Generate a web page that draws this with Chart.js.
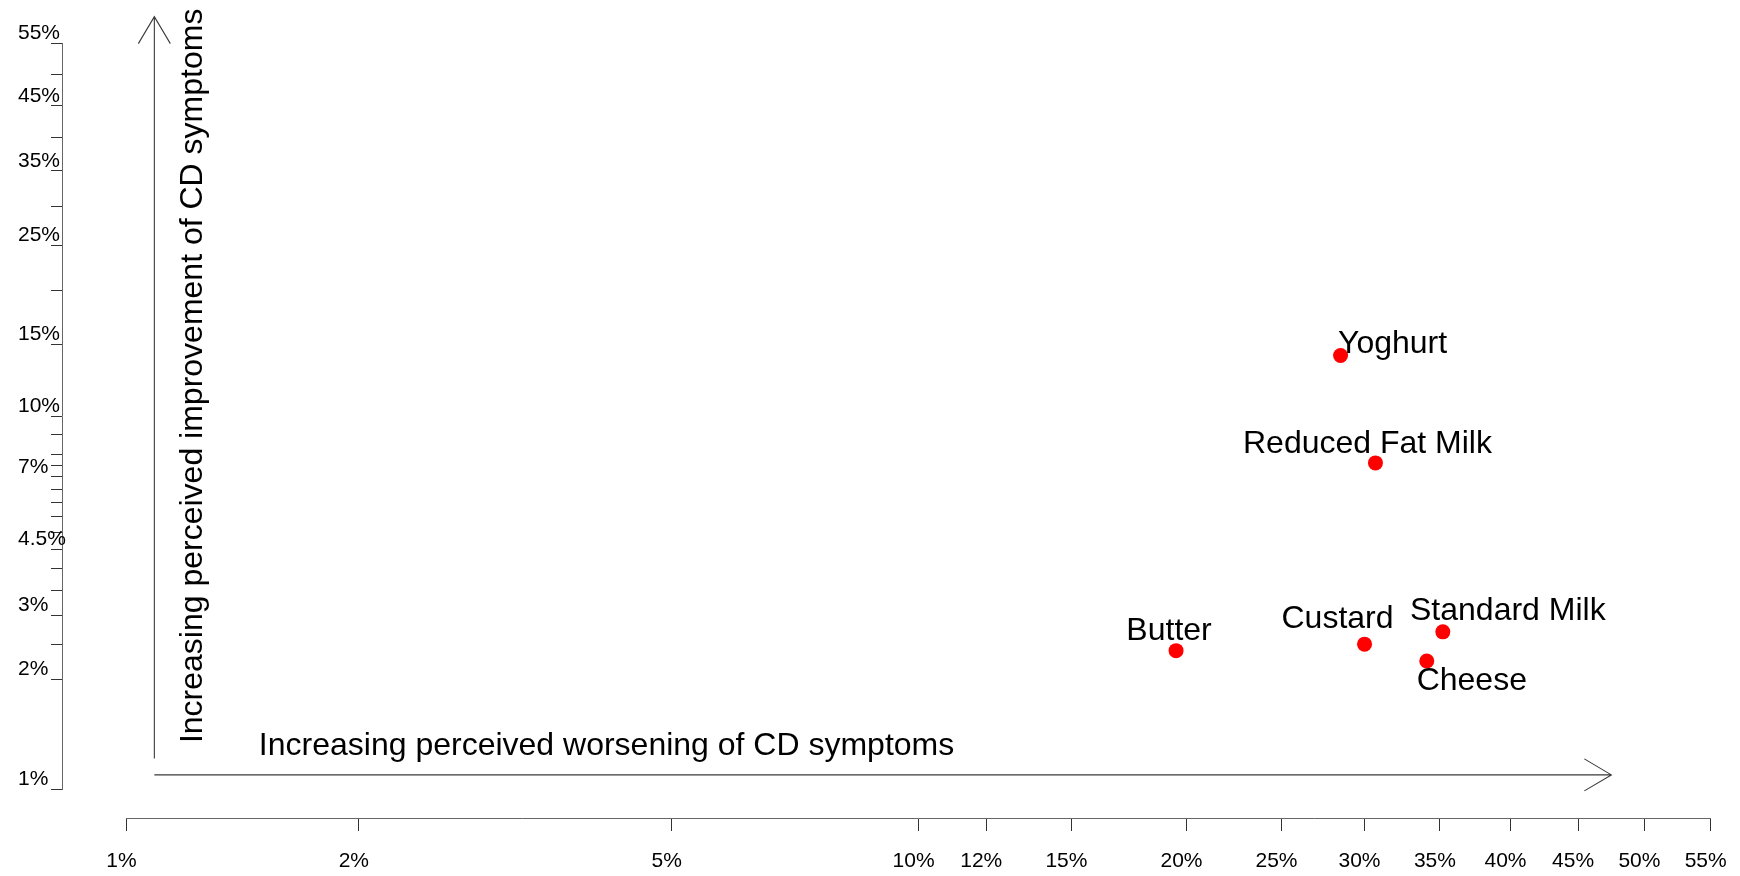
<!DOCTYPE html>
<html>
<head>
<meta charset="utf-8">
<title>Dairy foods and perceived CD symptoms</title>
<script src="https://cdn.jsdelivr.net/npm/chart.js@4.4.1/dist/chart.umd.min.js"></script>
<style>
  html, body { margin: 0; padding: 0; background: #ffffff; overflow: hidden; }
  canvas { display: block; }
</style>
</head>
<body>
<canvas id="chart" width="1740" height="876"></canvas>
<script>
// ---- data (percent of respondents) ----
const FOODS = ['Yoghurt', 'Reduced Fat Milk', 'Butter', 'Custard', 'Standard Milk', 'Cheese'];
const WORSENING = [28.5, 30.7, 19.5, 30.0, 35.2, 34.1];     // x: perceived worsening
const IMPROVEMENT = [14.1, 7.6, 2.4, 2.5, 2.7, 2.25];       // y: perceived improvement

// ---- axis ticks (percent) ----
const X_TICKS = [1, 2, 5, 10, 12, 15, 20, 25, 30, 35, 40, 45, 50, 55];
const Y_TICKS = [1, 2, 2.5, 3, 3.5, 4, 4.5, 5, 5.5, 6, 6.5, 7, 7.5, 8, 9, 10, 15, 20, 25, 30, 35, 40, 45, 50, 55];
const Y_LABELED = [1, 2, 3, 4.5, 7, 10, 15, 25, 35, 45, 55];

const X_TITLE = 'Increasing perceived worsening of CD symptoms';
const Y_TITLE = 'Increasing perceived improvement of CD symptoms';

// direction arrows, in percent on the chart's own scales
const ARROW_X_AT = 1.087;     // x value of the vertical arrow
const ARROW_Y_AT = 1.094;     // y value of the horizontal arrow
const ARROW_V_FROM = 1.215;   // vertical arrow start (y)
const ARROW_V_TO = 59.2;      // vertical arrow tip (y)
const ARROW_H_TO = 47.5;      // horizontal arrow tip (x)

// label placement relative to each point: [dx, dy] of label centre / baseline
const LABEL_OFFSETS = [[52, -2], [-8, -10], [-7, -11], [-27, -16], [65, -12], [45, 29]];

const FONT = '"Liberation Sans", Arial, Helvetica, sans-serif';

// ---- logit-scaled axis ----
const logit = v => Math.log(v / (100 - v));

class LogitScale extends Chart.LinearScale {
  static id = 'logit';
  static defaults = {};
  configure() {
    super.configure();
    this._lStart = logit(this.min);
    this._lRange = logit(this.max) - this._lStart;
  }
  getPixelForValue(value) {
    return this.getPixelForDecimal((logit(value) - this._lStart) / this._lRange);
  }
  getValueForPixel(pixel) {
    const l = this._lStart + this.getDecimalForPixel(pixel) * this._lRange;
    return 100 / (1 + Math.exp(-l));
  }
}
Chart.register(LogitScale);

const pct = v => v + '%';
const tickList = list => scale => { scale.ticks = list.map(v => ({ value: v })); };

// ---- arrows and titles ----
const arrowsPlugin = {
  id: 'arrows',
  afterDraw(chart) {
    const { ctx, scales: { x, y } } = chart;
    const ax = x.getPixelForValue(ARROW_X_AT);
    const ay = y.getPixelForValue(ARROW_Y_AT);
    const vTop = y.getPixelForValue(ARROW_V_TO);
    const vBottom = y.getPixelForValue(ARROW_V_FROM);
    const hEnd = x.getPixelForValue(ARROW_H_TO);
    const headLen = 27, headHalf = 16;

    ctx.save();
    ctx.strokeStyle = '#3a3a3a';
    ctx.lineWidth = 1.1;
    ctx.beginPath();
    // vertical arrow
    ctx.moveTo(ax, vBottom); ctx.lineTo(ax, vTop);
    ctx.moveTo(ax - headHalf, vTop + headLen); ctx.lineTo(ax, vTop); ctx.lineTo(ax + headHalf, vTop + headLen);
    // horizontal arrow
    ctx.moveTo(ax, ay); ctx.lineTo(hEnd, ay);
    ctx.moveTo(hEnd - headLen, ay - headHalf); ctx.lineTo(hEnd, ay); ctx.lineTo(hEnd - headLen, ay + headHalf);
    ctx.stroke();

    ctx.fillStyle = '#000';
    ctx.font = '32px ' + FONT;
    ctx.textBaseline = 'alphabetic';
    ctx.textAlign = 'left';
    ctx.fillText(X_TITLE, ax + 104.5, ay - 20);

    ctx.translate(ax + 47.4, vBottom - 15.3);
    ctx.rotate(-Math.PI / 2);
    ctx.fillText(Y_TITLE, 0, 0);
    ctx.restore();
  }
};

// ---- point labels ----
const pointLabelsPlugin = {
  id: 'pointLabels',
  afterDatasetsDraw(chart) {
    const { ctx } = chart;
    const meta = chart.getDatasetMeta(0);
    ctx.save();
    ctx.fillStyle = '#000';
    ctx.font = '32px ' + FONT;
    ctx.textAlign = 'center';
    ctx.textBaseline = 'alphabetic';
    meta.data.forEach((pt, i) => {
      const [dx, dy] = LABEL_OFFSETS[i];
      ctx.fillText(FOODS[i], pt.x + dx, pt.y + dy);
    });
    ctx.restore();
  }
};

new Chart(document.getElementById('chart'), {
  type: 'scatter',
  data: {
    datasets: [{
      label: 'Dairy foods',
      data: FOODS.map((f, i) => ({ x: WORSENING[i], y: IMPROVEMENT[i] })),
      backgroundColor: '#ff0000',
      borderColor: '#ff0000',
      borderWidth: 0,
      pointRadius: 7.5,
      pointHoverRadius: 7.5
    }]
  },
  options: {
    responsive: false,
    devicePixelRatio: 1,
    animation: false,
    events: [],
    layout: { padding: { left: 18, right: 29.3, top: 43.3, bottom: 87 } },
    plugins: { legend: { display: false }, tooltip: { enabled: false } },
    scales: {
      x: {
        type: 'logit',
        min: 1, max: 55,
        position: { y: 0.83 },
        afterBuildTicks: tickList(X_TICKS),
        grid: { drawOnChartArea: false, drawTicks: true, tickLength: 12, tickColor: '#333', lineWidth: 1 },
        border: { display: true, color: '#666', width: 1 },
        ticks: {
          autoSkip: false, maxRotation: 0, minRotation: 0,
          color: '#000', padding: 0, labelOffset: -5,
          font: { family: FONT, size: 21, lineHeight: '62px' },
          callback: pct
        }
      },
      y: {
        type: 'logit',
        min: 1, max: 55,
        position: { x: 0.826 },
        afterBuildTicks: tickList(Y_TICKS),
        grid: { drawOnChartArea: false, drawTicks: true, tickLength: 11, tickColor: '#333', lineWidth: 1 },
        border: { display: true, color: '#666', width: 1 },
        ticks: { display: false, autoSkip: false }
      },
      yLabels: {
        type: 'logit',
        axis: 'y',
        min: 1, max: 55,
        position: 'left',
        afterBuildTicks: tickList(Y_LABELED),
        afterFit: scale => { scale.width = 108.5; },
        grid: { display: false, drawTicks: false },
        border: { display: false },
        ticks: {
          autoSkip: false, crossAlign: 'far', labelOffset: -10, padding: 0,
          color: '#000', font: { family: FONT, size: 21 },
          callback: pct
        }
      }
    }
  },
  plugins: [arrowsPlugin, pointLabelsPlugin]
});
</script>
</body>
</html>
